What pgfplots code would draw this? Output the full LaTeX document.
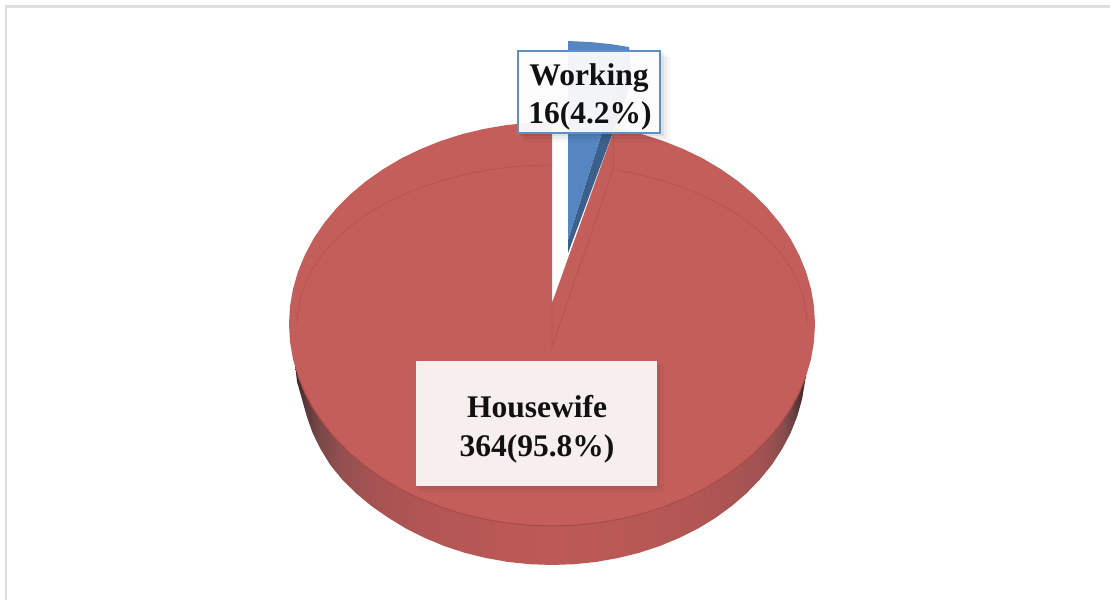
\documentclass[border=0pt]{standalone}
\usepackage{pgfplots}
\usepackage{fontspec}
\setmainfont{Liberation Serif}
\pgfplotsset{compat=1.18}

\definecolor{pietop}{HTML}{C35E5A}
\definecolor{rim}{HTML}{B65452}
\definecolor{frontedge}{HTML}{A64B49}
\definecolor{blueface}{HTML}{5686C2}
\definecolor{blueside}{HTML}{3C5F8C}
\definecolor{boxborder}{HTML}{5F8FC8}
\definecolor{boxpink}{HTML}{F7EEEE}
\definecolor{frameline}{HTML}{DDDDDD}
\definecolor{labeltext}{HTML}{111111}

\definecolor{wa}{HTML}{352424}
\definecolor{wb}{HTML}{5C3838}
\definecolor{wc}{HTML}{7A4848}
\definecolor{wd}{HTML}{945050}
\definecolor{we}{HTML}{A85352}
\definecolor{wf}{HTML}{B25654}
\definecolor{wg}{HTML}{B95855}
\definecolor{wh}{HTML}{BB5A56}
\definecolor{wi}{HTML}{B85855}
\definecolor{wj}{HTML}{AD5553}
\definecolor{wk}{HTML}{A05252}
\definecolor{wl}{HTML}{8A4C4C}
\definecolor{wm}{HTML}{6E4444}
\pgfdeclarehorizontalshading{sidewall}{100bp}{
  color(0bp)=(wa);color(25bp)=(wa);
  color(26bp)=(wb);color(27.4bp)=(wc);
  color(29.6bp)=(wd);color(33.3bp)=(we);
  color(38.2bp)=(wf);color(45bp)=(wg);
  color(50.1bp)=(wh);color(58.8bp)=(wi);
  color(66.6bp)=(wj);color(70.8bp)=(wk);
  color(72.7bp)=(wl);color(73.6bp)=(wm);
  color(75bp)=(wa);color(100bp)=(wa)}

\newcommand{\lab}[3]{\node[anchor=base,text=labeltext,inner sep=0pt,font=\bfseries\fontsize{31.5}{31.5}\selectfont] at (axis cs:#1,#2) {#3};}

\begin{document}
\begin{tikzpicture}
\begin{axis}[
    scale only axis,
    width=1110pt, height=600pt,
    xmin=0, xmax=1110, ymin=0, ymax=600,
    y dir=reverse,
    axis lines=none,
]
% page and frame
\addplot[fill=white, draw=none] coordinates {(0,0) (1110,0) (1110,600) (0,600)} -- cycle;
\addplot[color=frameline, line width=2.5pt] coordinates {(6,600) (6,6.5) (1110,6.5)};

% blue slice, pulled out
\addplot[fill=blueside, draw=none] coordinates {(568,240) (568,253) (612,135) (632,80) (629,47)} -- cycle;
\addplot[fill=blueface, draw=none] coordinates {(568,240) (568,41) (590,42) (610,44) (629,47)} -- cycle;

% side wall
\addplot[shading=sidewall, draw=none] coordinates {
  (300,330) (295,364) (297,381.5) (301.9,398.9) (306.7,416) (312.5,432.7) (320.5,448.9)
  (330,464.5) (342,479.3) (356,493.2) (371.5,506.1) (388.7,518) (406.3,528.7) (425,538)
  (444.7,546.2) (465.1,552.9) (486.3,558.1) (507.9,561.9) (529.9,564.2) (552,565)
  (574.1,564.2) (596.1,561.9) (617.7,558.1) (638.9,552.9) (659.3,546.2) (679,538)
  (697.7,528.7) (715.3,518) (731.6,506.1) (746.6,493.2) (760,479.3) (772,464.5)
  (782.2,448.9) (790.7,432.7) (797.3,416) (802.1,398.9) (805,381.5) (806,364) (804,330)
} -- cycle;

% top face
\addplot[fill=pietop, draw=none] coordinates {
  (552,303) (552,122) (529.1,122.8) (506.3,125.1) (483.9,128.9) (462,134.2) (440.9,140.9)
  (420.5,149.1) (401.1,158.5) (382.9,169.3) (366,181.2) (350.5,194.2) (336.6,208.1)
  (324.2,223) (313.6,238.6) (304.9,254.9) (298,271.7) (293,288.9) (290,306.4) (289,324)
  (290,341.6) (293,359.1) (298,376.3) (304.9,393.1) (313.6,409.4) (324.2,425) (336.6,439.9)
  (350.5,453.8) (366,466.8) (382.9,478.7) (401.1,489.5) (420.5,498.9) (440.9,507.1)
  (462,513.8) (483.9,519.1) (506.3,522.9) (529.1,525.2) (552,526) (574.9,525.2)
  (597.7,522.9) (620.1,519.1) (642,513.8) (663.1,507.1) (683.5,498.9) (702.9,489.5)
  (721.1,478.7) (738,466.8) (753.5,453.8) (767.4,439.9) (779.8,425) (790.4,409.4)
  (799.1,393.1) (806,376.3) (811,359.1) (814,341.6) (815,324) (814,306.4) (811,288.9)
  (806,271.7) (799.1,254.9) (790.4,238.6) (779.8,223) (767.4,208.1) (753.5,194.2)
  (738,181.2) (721.1,169.3) (702.9,158.5) (683.5,149.1) (663.1,140.9) (642,134.2)
  (620.1,128.9) (614.8,127.8)
} -- cycle;

% front edge of the top face
\addplot[color=frontedge, line width=1pt] coordinates {
  (298,376.3) (304.9,393.1) (313.6,409.4) (324.2,425) (336.6,439.9)
  (350.5,453.8) (366,466.8) (382.9,478.7) (401.1,489.5) (420.5,498.9) (440.9,507.1)
  (462,513.8) (483.9,519.1) (506.3,522.9) (529.1,525.2) (552,526) (574.9,525.2)
  (597.7,522.9) (620.1,519.1) (642,513.8) (663.1,507.1) (683.5,498.9) (702.9,489.5)
  (721.1,478.7) (738,466.8) (753.5,453.8) (767.4,439.9) (779.8,425) (790.4,409.4)
  (799.1,393.1) (806,376.3)};

% bevel lines
\addplot[color=rim, line width=0.8pt] coordinates {
  (297,323) (298,309.2) (300.9,295.6) (305.7,282.1) (312.4,269) (320.9,256.2) (331.2,244)
  (343.1,232.4) (356.7,221.4) (371.7,211.3) (388.1,202) (405.7,193.6) (424.5,186.2)
  (444.2,179.8) (464.8,174.5) (486,170.4) (507.7,167.4) (529.8,165.6) (552,165)};
\addplot[color=rim, line width=0.8pt] coordinates {
  (807,323) (806,309.2) (803.1,295.6) (798.3,282.1) (791.6,269) (783.1,256.2) (772.8,244)
  (760.9,232.4) (747.3,221.4) (732.3,211.3) (715.9,202) (698.3,193.6) (679.5,186.2)
  (659.8,179.8) (639.2,174.5) (618,170.4)};
\addplot[color=rim, line width=0.8pt] coordinates {(613,170) (552,347) (552,303)};
\addplot[color=rim, line width=0.8pt] coordinates {(613,170) (613,133)};

% Working label
\addplot[fill=black, fill opacity=0.03, draw=none] coordinates {(524,57) (670,57) (670,142) (524,142)} -- cycle;
\addplot[fill=black, fill opacity=0.04, draw=none] coordinates {(522,55) (667,55) (667,139) (522,139)} -- cycle;
\addplot[fill=black, fill opacity=0.05, draw=none] coordinates {(520,53) (664,53) (664,136) (520,136)} -- cycle;
\addplot[fill=white, fill opacity=0.93, draw=boxborder, line width=2pt] coordinates {(518,51) (660,51) (660,133) (518,133)} -- cycle;
\lab{589}{85.5}{Working}
\lab{590}{123.5}{16(4.2\%)}

% Housewife label
\addplot[fill=black, fill opacity=0.03, draw=none] coordinates {(419,364) (664,364) (664,492) (419,492)} -- cycle;
\addplot[fill=black, fill opacity=0.04, draw=none] coordinates {(417,362) (660,362) (660,489) (417,489)} -- cycle;
\addplot[fill=boxpink, draw=none] coordinates {(416,361) (657,361) (657,486) (416,486)} -- cycle;
\lab{537}{417}{Housewife}
\lab{537}{456}{364(95.8\%)}
\end{axis}
\end{tikzpicture}
\end{document}
